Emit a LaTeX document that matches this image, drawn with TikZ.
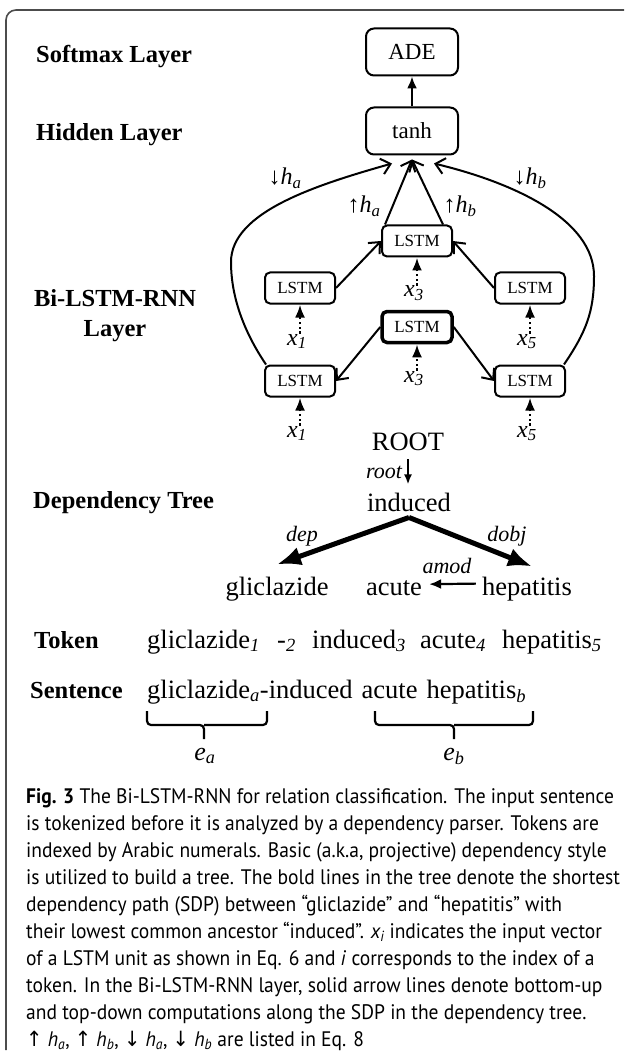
\documentclass[tikz,border=0pt]{standalone}
\usepackage{fontspec}
\setmainfont{Liberation Serif}
\newfontfamily\capfont[FakeStretch=0.93]{PT Sans}
\newfontfamily\symfont[FakeStretch=0.93]{DejaVu Sans}
\usetikzlibrary{arrows.meta,calc}
\newcommand\setfs[1]{\fontsize{#1}{#1}\selectfont}
\begin{document}
\begin{tikzpicture}[x=1pt,y=-1pt,
  lab/.style={font=\setfs{24.5}\bfseries, anchor=base west, inner sep=0},
  word/.style={font=\setfs{26.5}, anchor=base, inner sep=0},
  tokw/.style={font=\setfs{26.5}, anchor=base west, inner sep=0},
  rel/.style={font=\setfs{22}\itshape, anchor=base, inner sep=0},
  xlab/.style={font=\setfs{24}\itshape, anchor=base, inner sep=0},
  hlab/.style={font=\setfs{24}, anchor=base, inner sep=0},
  bigbox/.style={draw, line width=2pt, rounded corners=8pt, minimum width=92pt, minimum height=47pt, inner sep=0, font=\setfs{23}},
  lstm/.style={draw, line width=2pt, rounded corners=5pt, minimum width=70pt, minimum height=31pt, inner sep=0, font=\setfs{17}},
  barb/.style={line width=2pt, -{Straight Barb[length=9pt,width=16pt,line width=2pt]}},
  dotarr/.style={line width=2.6pt, dash pattern=on 2.4pt off 2.4pt, -{Latex[length=13pt,width=10pt]}},
  solidarr/.style={line width=2.2pt, -{Latex[length=12pt,width=10pt]}},
  thickarr/.style={line width=5pt, -{Latex[length=24pt,width=19pt]}},
  thinarr/.style={line width=1.8pt, -{Latex[length=10pt,width=8pt]}},
  capt/.style={font=\capfont\setfs{21}, anchor=base west, inner sep=0},
  bracestyle/.style={line width=2.2pt, rounded corners=4pt},
  framestyle/.style={draw=black!70, line width=1.6pt, rounded corners=10pt}
]
\useasboundingbox (0,0) rectangle (624,1056);
% frame
\draw[framestyle] (624,10) -- (6,10) -- (6,1050);

% left labels
\node[lab] (soft) at (36,63) {Softmax Layer};
\node[lab] (hid) at (36,141) {Hidden Layer};
\node[lab, anchor=base] (bil1) at (115,306) {Bi-LSTM-RNN};
\node[lab, anchor=base] (bil2) at (115,336) {Layer};
\node[lab] (dept) at (33,508) {Dependency Tree};
\node[lab] (tok) at (34,648) {Token};
\node[lab] (sen) at (30,698) {Sentence};

% top boxes
\node[bigbox] (ade) at (412,52) {ADE};
\node[bigbox] (tanh) at (412,131) {tanh};
\draw[solidarr] (tanh.north) -- (ade.south);

% LSTM units
\node[lstm] (l1u) at (300,288) {LSTM};
\node[lstm] (l3u) at (417,241) {LSTM};
\node[lstm] (l5u) at (530,288) {LSTM};
\node[lstm, line width=3.5pt] (l3d) at (417,327) {LSTM};
\node[lstm] (l1d) at (300,381) {LSTM};
\node[lstm] (l5d) at (530,381) {LSTM};

% inputs
\node[xlab] (x1u) at (297,345) {x\textsubscript{1}};
\node[xlab] (x3u) at (414,297) {x\textsubscript{3}};
\node[xlab] (x5u) at (527,345) {x\textsubscript{5}};
\node[xlab] (x3d) at (414,382) {x\textsubscript{3}};
\node[xlab] (x1d) at (297,437) {x\textsubscript{1}};
\node[xlab] (x5d) at (527,437) {x\textsubscript{5}};
\draw[dotarr] (x1u.north -| l1u.south) -- (l1u.south);
\draw[dotarr] (x3u.north -| l3u.south) -- (l3u.south);
\draw[dotarr] (x5u.north -| l5u.south) -- (l5u.south);
\draw[dotarr] (x3d.north -| l3d.south) -- (l3d.south);
\draw[dotarr] (x1d.north -| l1d.south) -- (l1d.south);
\draw[dotarr] (x5d.north -| l5d.south) -- (l5d.south);

% LSTM connections
\draw[barb] (l1u.east) -- (l3u.west);
\draw[barb] (l5u.west) -- (l3u.east);
\draw[barb] (l3d.west) -- (l1d.east);
\draw[barb] (l3d.east) -- (l5d.west);

% to tanh
\coordinate (tipC) at ($(tanh.south)+(0,4)$);
\coordinate (tipL) at ($(tanh.south)+(-20,8)$);
\coordinate (tipR) at ($(tanh.south)+(22,8)$);
\draw[barb] ($(l3u.north west)+(4,0)$) -- (tipC);
\draw[barb] ($(l3u.north east)+(-10,0)$) -- (tipC);
\draw[barb] ($(l1d.north west)+(2,0)$) .. controls (244,332) and (231,297) .. (231,262)
  .. controls (231,212) and (316,185) .. (tipL);
\draw[barb] ($(l5d.north east)+(-2,0)$) .. controls (586,332) and (594,312) .. (594,276)
  .. controls (594,220) and (515,183) .. (tipR);

\node[hlab] (dha) at (285,185) {↓\textit{h}\textsubscript{\textit{a}}};
\node[hlab] (dhb) at (530,185) {↓\textit{h}\textsubscript{\textit{b}}};
\node[hlab] (uha) at (364,213) {↑\textit{h}\textsubscript{\textit{a}}};
\node[hlab] (uhb) at (460,213) {↑\textit{h}\textsubscript{\textit{b}}};

% dependency tree
\node[word] (root) at (408,450) {ROOT};
\node[word] (induced) at (409,511) {induced};
\node[word] (glic) at (277,595) {gliclazide};
\node[word] (acute) at (394,595) {acute};
\node[word] (hep) at (527,595) {hepatitis};
\node[rel] (rootl) at (384,478) {root};
\node[rel] (depl) at (302,541) {dep};
\node[rel] (dobjl) at (507,541) {dobj};
\node[rel] (amodl) at (447,573) {amod};
\draw[thinarr, shorten <=9pt, shorten >=8pt] (root.south) -- (root.south |- induced.north);
\coordinate (ind) at ($(induced.south)+(0,6)$);
\draw[thickarr] (ind) -- ($(glic.north)+(0,-12)$);
\draw[thickarr] (ind) -- ($(hep.north)+(5,-10)$);
\draw[solidarr] ($(hep.west)+(-6,-5)$) -- ($(acute.east)+(7,-3.5)$);

% token row
\node[tokw] (t1) at (147,648) {gliclazide\textsubscript{\itshape 1}};
\node[tokw] (t2) at (277,648) {-\textsubscript{\itshape 2}};
\node[tokw] (t3) at (312,648) {induced\textsubscript{\itshape 3}};
\node[tokw] (t4) at (420,648) {acute\textsubscript{\itshape 4}};
\node[tokw] (t5) at (502,648) {hepatitis\textsubscript{\itshape 5}};

% sentence row
\node[tokw] (sent) at (147,698) {gliclazide\textsubscript{\itshape a}-induced\hspace{9pt}acute\hspace{9pt}hepatitis\textsubscript{\itshape b}};
\coordinate (b1a) at (147,711);
\coordinate (b1b) at (267,711);
\coordinate (b2a) at (375,711);
\coordinate (b2b) at (533,711);
\draw[bracestyle] (b1a) |- (204,725) -- (204,739) (204,725) -| (b1b);
\draw[bracestyle] (b2a) |- (454,725) -- (454,739) (454,725) -| (b2b);
\node[xlab, font=\setfs{26}\itshape] (ea) at (205,760) {e\textsubscript{a}};
\node[xlab, font=\setfs{26}\itshape] (eb) at (454,760) {e\textsubscript{b}};

% caption
\node[capt] (c1) at (26,803) {{\bfseries Fig. 3} The Bi-LSTM-RNN for relation classification. The input sentence};
\node[capt] (c2) at (26,830) {is tokenized before it is analyzed by a dependency parser. Tokens are};
\node[capt] (c3) at (26,857) {indexed by Arabic numerals. Basic (a.k.a, projective) dependency style};
\node[capt] (c4) at (26,884) {is utilized to build a tree. The bold lines in the tree denote the shortest};
\node[capt] (c5) at (26,911) {dependency path (SDP) between “gliclazide” and “hepatitis” with};
\node[capt] (c6) at (26,938) {their lowest common ancestor “induced”. \textit{x\textsubscript{i}} indicates the input vector};
\node[capt] (c7) at (26,965) {of a LSTM unit as shown in Eq. 6 and \textit{i} corresponds to the index of a};
\node[capt] (c8) at (26,992) {token. In the Bi-LSTM-RNN layer, solid arrow lines denote bottom-up};
\node[capt] (c9) at (26,1019) {and top-down computations along the SDP in the dependency tree.};
\node[capt] (c10) at (26,1046) {{\symfont↑} \textit{h\textsubscript{a}}, {\symfont↑} \textit{h\textsubscript{b}}, {\symfont↓} \textit{h\textsubscript{a}}, {\symfont↓} \textit{h\textsubscript{b}} are listed in Eq. 8};
\end{tikzpicture}
\end{document}
